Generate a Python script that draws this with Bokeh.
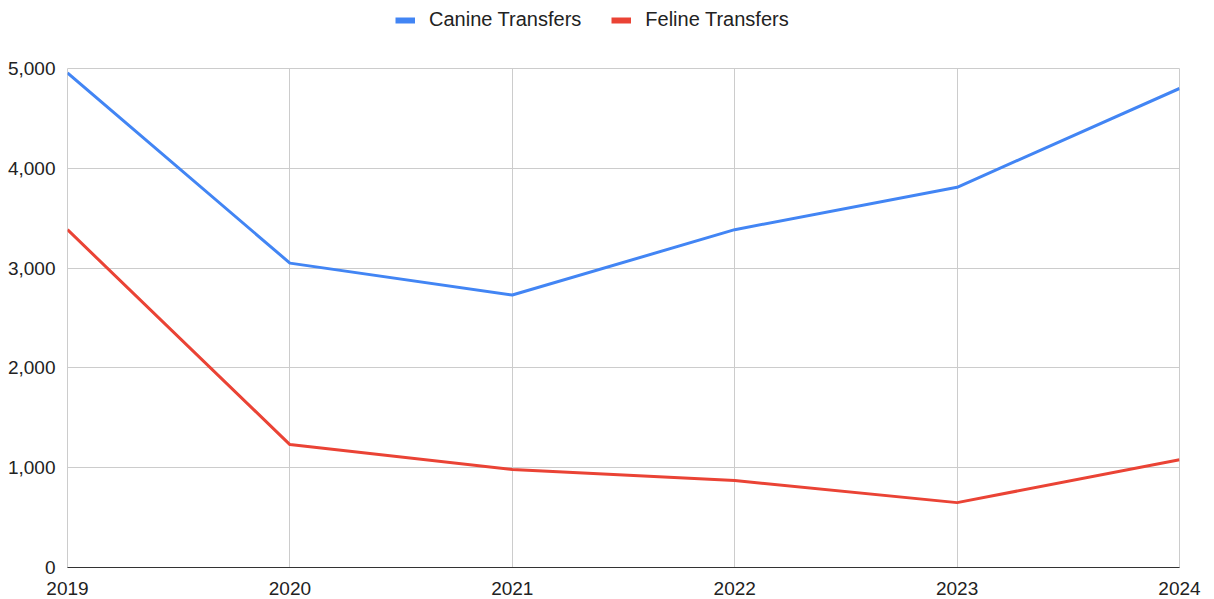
from bokeh.plotting import figure
from bokeh.layouts import column
from bokeh.models import (Legend, LegendItem, FixedTicker, NumeralTickFormatter,
                          Range1d, ColumnDataSource)
from bokeh.embed import file_html
from bokeh.resources import INLINE

years = [2019, 2020, 2021, 2022, 2023, 2024]
canine = [4955, 3050, 2730, 3385, 3810, 4800]
feline = [3385, 1232, 983, 872, 650, 1080]
y_ticks = [0, 1000, 2000, 3000, 4000, 5000]
series_names = ["Canine Transfers", "Feline Transfers"]

FONT = "Liberation Sans"
BLUE = "#4285F4"
RED = "#EA4335"
GRID = "#cccccc"

src = ColumnDataSource(dict(year=years, canine=canine, feline=feline))

# ---- legend strip ----
top = figure(width=1214, height=38, output_backend="svg", toolbar_location=None,
             x_axis_type=None, y_axis_type=None,
             x_range=Range1d(0, 1), y_range=Range1d(0, 1),
             min_border_left=0, min_border_right=0, min_border_top=0,
             min_border_bottom=0)
top.outline_line_color = None
top.xgrid.visible = False
top.ygrid.visible = False
lc = top.line([None], [None], line_color=BLUE, line_width=6)
lf = top.line([None], [None], line_color=RED, line_width=6)
legend = Legend(items=[LegendItem(label=series_names[0], renderers=[lc]),
                       LegendItem(label=series_names[1], renderers=[lf])],
                orientation="horizontal", location=(328, 7),
                label_text_font=FONT, label_text_font_size="20px",
                label_text_color="#222222", glyph_width=20, glyph_height=20,
                label_standoff=14, label_height=20, spacing=30, padding=0, margin=0,
                border_line_color=None, background_fill_alpha=0)
top.add_layout(legend, "center")

# ---- main chart ----
p = figure(width=1214, height=559, output_backend="svg", toolbar_location=None,
           x_range=Range1d(2019, 2024), y_range=Range1d(0, 5000),
           min_border_left=67, min_border_right=35, min_border_top=30,
           min_border_bottom=0)
p.background_fill_color = "white"
p.border_fill_color = "white"
p.outline_line_color = GRID
p.outline_line_width = 1

p.line("year", "canine", source=src, line_color=BLUE, line_width=3, line_join="round")
p.line("year", "feline", source=src, line_color=RED, line_width=3, line_join="round")

p.xaxis.ticker = FixedTicker(ticks=years)
p.yaxis.ticker = FixedTicker(ticks=y_ticks)
p.yaxis.formatter = NumeralTickFormatter(format="0,0")

for ax in (p.xaxis, p.yaxis):
    ax.major_tick_line_color = None
    ax.minor_tick_line_color = None
    ax.major_label_text_font = FONT
    ax.major_label_text_font_size = "19px"
    ax.major_label_text_color = "#222222"

p.yaxis.axis_line_color = None
p.yaxis.major_label_standoff = 6
p.xaxis.axis_line_color = "#333333"
p.xaxis.axis_line_width = 1
p.xaxis.major_label_standoff = 8

p.xgrid.grid_line_color = GRID
p.ygrid.grid_line_color = GRID
p.xgrid.grid_line_width = 1
p.ygrid.grid_line_width = 1

layout = column(top, p, spacing=0)
open("out.html", "w").write(file_html(layout, INLINE))
